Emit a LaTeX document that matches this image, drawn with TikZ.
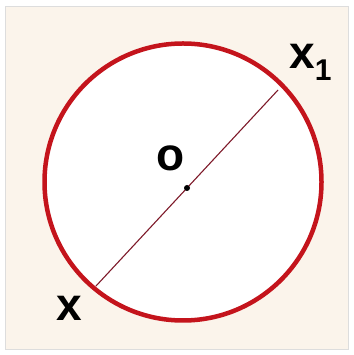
\documentclass[tikz,border=0pt]{standalone}
\usepackage{fontspec}
\setmainfont{Liberation Sans}
\usetikzlibrary{positioning}
\definecolor{ringred}{HTML}{C4141C}
\definecolor{chordred}{HTML}{7E1A2A}
\definecolor{paper}{HTML}{FBF4EB}
\definecolor{framegray}{HTML}{DDDDDD}

\begin{document}
\begin{tikzpicture}[
            x=1pt, y=1pt,
            lbl/.style={font=\bfseries\fontsize{46}{46}\selectfont, inner sep=0pt},
            centre/.style={circle, fill=black, inner sep=0pt, minimum size=6pt}
        ]
            \useasboundingbox (0,0) rectangle (353,355);
            \fill[white] (0,0) rectangle (353,355);
            \draw[framegray, fill=paper, line width=1pt] (5,5) rectangle (348,348);
            \node[circle, draw=ringred, fill=white, line width=4.5pt, minimum size=277pt, inner sep=0pt, outer sep=0pt] (ring) at (183,173) {};
            \coordinate (x) at (96,69);
            \coordinate (x1) at (278,265);
            \draw[chordred, line width=1.1pt] (x) -- node[centre] (o) {} (x1);
            \node[lbl] (olbl) at (171,197) {o};
            \node[lbl] (xlbl) at (69,47) {x};
            \node[lbl, anchor=west] (x1lbl) at (289,293) {x\raisebox{-12pt}{\fontsize{30}{30}\selectfont 1}};
        \end{tikzpicture}
\end{document}
